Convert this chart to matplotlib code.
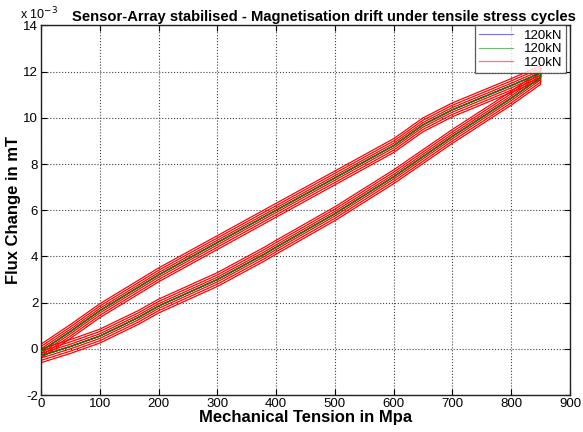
import matplotlib
matplotlib.use("Agg")
import matplotlib.pyplot as plt
import numpy as np

plt.rcParams['font.family'] = ['Liberation Sans', 'DejaVu Sans']

# Loading branch (lower) and unloading branch (upper), Flux change in 1e-3 mT
tension_up = [0, 50, 100, 165, 200, 300, 380, 400, 500, 600, 700, 800, 850]
flux_load = [-0.3, 0.1, 0.55, 1.35, 1.85, 3.0, 4.1, 4.4, 5.85, 7.45, 9.2, 10.85, 11.75]
tension_down = [850, 800, 700, 650, 600, 500, 400, 300, 200, 100, 50, 0]
flux_unload = [11.95, 11.4, 10.35, 9.7, 8.8, 7.4, 6.0, 4.6, 3.2, 1.65, 0.75, -0.1]

# vertical offsets (1e-3 mT) of successive red cycles
red_offsets = [-0.3, -0.2, -0.1, 0.0, 0.1, 0.2, 0.3]
green_offset = 0.0
blue_offset = 0.0
labels = ['120kN', '120kN', '120kN']

x_loop = np.array(tension_up + tension_down)
y_base = np.array(flux_load + flux_unload) * 1e-3

fig = plt.figure(figsize=(5.83, 4.32), dpi=100)
ax = fig.add_axes([0.0703, 0.0856, 0.9074, 0.8554])

ax.plot(x_loop, y_base + blue_offset * 1e-3, color='blue', lw=0.8, label=labels[0])
ax.plot(x_loop, y_base + green_offset * 1e-3, color='green', lw=0.8, label=labels[1])
first = True
for off in red_offsets:
    ax.plot(x_loop, y_base + off * 1e-3, color='red', lw=0.9,
            label=labels[2] if first else None)
    first = False
ax.plot(x_loop, y_base + green_offset * 1e-3, color='green', lw=0.9, zorder=3)

ax.set_xlim(0, 900)
ax.set_ylim(-2e-3, 14e-3)
ax.set_xticks(np.arange(0, 901, 100))
ax.set_yticks(np.arange(-2, 15, 2) * 1e-3)
ax.set_yticklabels([str(v) for v in range(-2, 15, 2)])
ax.tick_params(direction='in', labelsize=9.5, length=4, top=True, right=True, pad=2)
ax.grid(True, linestyle=':', color='#444444', lw=0.8)
for s in ax.spines.values():
    s.set_linewidth(1.0)
    s.set_color('#222222')

ax.set_xlabel('Mechanical Tension in Mpa', fontsize=12, fontweight='bold', labelpad=0)
ax.set_ylabel('Flux Change in mT', fontsize=12, fontweight='bold', labelpad=2)
ax.set_title('Sensor-Array stabilised - Magnetisation drift under tensile stress cycles',
             fontsize=10.6, fontweight='bold', pad=3, x=0.535)
ax.text(-0.04, 1.008, r'x 10$^{-3}$', transform=ax.transAxes, fontsize=9, va='bottom', ha='left')

leg = ax.legend(loc='upper right', fontsize=9.5, frameon=True, fancybox=False,
                edgecolor='#333333', borderaxespad=0.0, handlelength=2.6,
                labelspacing=0.1, borderpad=0.3, bbox_to_anchor=(0.993, 1.0))
leg.get_frame().set_linewidth(0.9)
for h in leg.get_lines():
    h.set_alpha(0.55)

fig.savefig('out.png', dpi=100)
